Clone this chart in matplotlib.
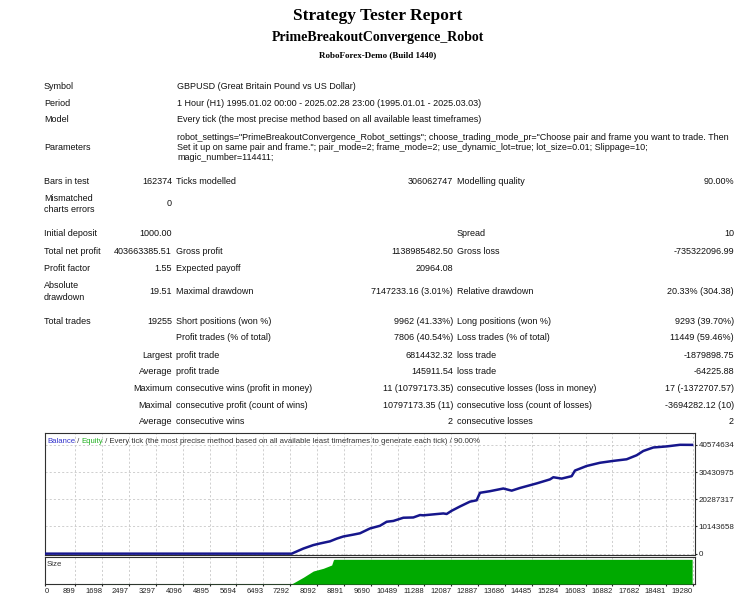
import matplotlib
matplotlib.use("Agg")
import matplotlib.pyplot as plt

plt.rcParams["font.family"] = ["Liberation Sans", "DejaVu Sans"]
SERIF = ["Liberation Serif", "DejaVu Serif"]

# ---- header / info ----
title = "Strategy Tester Report"
robot = "PrimeBreakoutConvergence_Robot"
server = "RoboForex-Demo (Build 1440)"

info_labels = ["Symbol", "Period", "Model"]
info_values = ["GBPUSD (Great Britain Pound vs US Dollar)",
               "1 Hour (H1) 1995.01.02 00:00 - 2025.02.28 23:00 (1995.01.01 - 2025.03.03)",
               "Every tick (the most precise method based on all available least timeframes)"]
param_lines = ['robot_settings="PrimeBreakoutConvergence_Robot_settings"; choose_trading_mode_pr="Choose pair and frame you want to trade. Then',
               'Set it up on same pair and frame."; pair_mode=2; frame_mode=2; use_dynamic_lot=true; lot_size=0.01; Slippage=10;',
               'magic_number=114411;']

# ---- results table (label, value) x 3 columns ----
stat_rows = [
    ("Bars in test", "162374", "Ticks modelled", "306062747", "Modelling quality", "90.00%"),
    ("Mismatched\ncharts errors", "0", "", "", "", ""),
    ("Initial deposit", "1000.00", "", "", "Spread", "10"),
    ("Total net profit", "403663385.51", "Gross profit", "1138985482.50", "Gross loss", "-735322096.99"),
    ("Profit factor", "1.55", "Expected payoff", "20964.08", "", ""),
    ("Absolute\ndrawdown", "19.51", "Maximal drawdown", "7147233.16 (3.01%)", "Relative drawdown", "20.33% (304.38)"),
    ("Total trades", "19255", "Short positions (won %)", "9962 (41.33%)", "Long positions (won %)", "9293 (39.70%)"),
    ("", "", "Profit trades (% of total)", "7806 (40.54%)", "Loss trades (% of total)", "11449 (59.46%)"),
    ("", "Largest", "profit trade", "6814432.32", "loss trade", "-1879898.75"),
    ("", "Average", "profit trade", "145911.54", "loss trade", "-64225.88"),
    ("", "Maximum", "consecutive wins (profit in money)", "11 (10797173.35)", "consecutive losses (loss in money)", "17 (-1372707.57)"),
    ("", "Maximal", "consecutive profit (count of wins)", "10797173.35 (11)", "consecutive loss (count of losses)", "-3694282.12 (10)"),
    ("", "Average", "consecutive wins", "2", "consecutive losses", "2"),
]

# ---- chart data ----
trades = [0, 7340, 7686, 7984, 8182, 8480, 8679, 8876, 9174, 9372, 9670, 9967, 10166,
          10364, 10662, 10959, 11158, 11256, 11852, 11951, 12100, 12347, 12645, 12843,
          12942, 13240, 13637, 13885, 14133, 14629, 15025, 15125, 15373, 15670, 15769,
          16116, 16513, 16910, 17306, 17604, 17802, 18100, 18497, 18893, 19255]
balance = [1000, 1000, 1.9e6, 3.2e6, 3.8e6, 4.6e6, 5.6e6, 6.4e6, 7.1e6, 7.6e6, 9.4e6,
           10.4e6, 11.9e6, 12.2e6, 13.4e6, 13.5e6, 14.4e6, 14.3e6, 15.0e6, 14.8e6, 16.0e6,
           17.6e6, 19.4e6, 19.9e6, 22.7e6, 23.3e6, 24.3e6, 23.5e6, 24.5e6, 26.2e6, 27.7e6,
           28.5e6, 28.0e6, 28.9e6, 31.0e6, 32.7e6, 33.9e6, 34.6e6, 35.2e6, 36.7e6, 38.3e6,
           39.6e6, 40.0e6, 40.6e6, 40.57e6]
size_trades = [0, 7340, 7686, 7983, 8281, 8530, 8580, 8600, 19255]
size_lots = [0, 0.3, 13.6, 26.3, 31.8, 38.5, 48.6, 50, 50]

x_ticks = [0, 899, 1698, 2497, 3297, 4096, 4895, 5694, 6493, 7292, 8092, 8891, 9690,
           10489, 11288, 12087, 12887, 13686, 14485, 15284, 16083, 16882, 17682, 18481, 19280]
y_ticks = [0, 10143658, 20287317, 30430975, 40574634]

W, H = 756, 600
fig = plt.figure(figsize=(W / 100, H / 100), dpi=100)
tx = fig.add_axes([0, 0, 1, 1])
tx.set_xlim(0, W); tx.set_ylim(H, 0); tx.axis("off")

tx.text(378, 16, title, ha="center", va="center", family=SERIF, weight="bold", fontsize=12.5)
tx.text(378, 38, robot, ha="center", va="center", family=SERIF, weight="bold", fontsize=10)
tx.text(378, 55, server, ha="center", va="center", family=SERIF, weight="bold", fontsize=6.5)

FS = 6.5
TC = "#111111"
for y, lab, val in zip([86.5, 103, 119], info_labels, info_values):
    tx.text(44, y, lab, va="center", fontsize=FS, color=TC)
    tx.text(177, y, val, va="center", fontsize=FS, color=TC)
for y, line in zip([137, 147, 157.5], param_lines):
    tx.text(177, y, line, va="center", fontsize=FS, color=TC)
tx.text(44, 147, "Parameters", va="center", fontsize=FS, color=TC)

row_y = [182, 204, 233, 251, 268.5, 291.5, 321.5, 338, 355, 372, 388.5, 405, 421.5]
for y, r in zip(row_y, stat_rows):
    tx.text(44, y, r[0], va="center", fontsize=FS, color=TC, linespacing=1.35)
    tx.text(172, y, r[1], va="center", ha="right", fontsize=FS, color=TC)
    tx.text(176, y, r[2], va="center", fontsize=FS, color=TC)
    tx.text(453, y, r[3], va="center", ha="right", fontsize=FS, color=TC)
    tx.text(457, y, r[4], va="center", fontsize=FS, color=TC)
    tx.text(734, y, r[5], va="center", ha="right", fontsize=FS, color=TC)

# ---- balance chart ----
ax = fig.add_axes([45 / W, (H - 555) / H, 650 / W, 122 / H])
ax.plot(trades, balance, color="#16168c", lw=1.8, zorder=3)
ax.set_xlim(0, 19340); ax.set_ylim(-500000, 45000000)
ax.set_xticks(x_ticks)
ax.set_yticks(y_ticks)
ax.set_yticklabels([str(v) for v in y_ticks])
ax.yaxis.tick_right()
ax.tick_params(axis="x", length=0, labelbottom=False)
ax.tick_params(axis="y", length=1.5, pad=1, labelsize=5.8, colors="#222222")
ax.grid(True, color="#c8c8c8", ls=(0, (2.5, 2.5)), lw=0.6)
for s in ax.spines.values():
    s.set_color("#303030"); s.set_linewidth(0.8)

yt = 0.915
t = ax.text(0.003, yt, "Balance", color="#3333cc", fontsize=5.6, transform=ax.transAxes, va="baseline")
for txt, col in [(" / ", "#333333"), ("Equity", "#22b022"),
                 (" / Every tick (the most precise method based on all available least timeframes to generate each tick) / 90.00%", "#333333")]:
    t = ax.annotate(txt, xy=(1, yt), xycoords=(t, "axes fraction"), va="baseline",
                    color=col, fontsize=5.6)

# ---- size chart ----
sz = fig.add_axes([45 / W, (H - 584) / H, 650 / W, 27 / H])
sz.fill_between(size_trades, size_lots, color="#00aa00", lw=0, zorder=3)
sz.set_xlim(0, 19340); sz.set_ylim(0, 54.7)
sz.set_yticks([])
sz.set_xticks(x_ticks)
sz.set_xticklabels([str(v) for v in x_ticks])
sz.tick_params(axis="x", length=1.5, pad=1.5, labelsize=5.5, colors="#222222")
labs = sz.get_xticklabels()
for i, lab in enumerate(labs):
    lab.set_ha("left" if i == 0 else "right")
sz.grid(True, axis="x", color="#c8c8c8", ls=(0, (2.5, 2.5)), lw=0.6)
for s in sz.spines.values():
    s.set_color("#303030"); s.set_linewidth(0.8)
sz.text(0.003, 0.72, "Size", transform=sz.transAxes, fontsize=5.6, color="#333333", va="center")

fig.savefig("out.png", dpi=100)
